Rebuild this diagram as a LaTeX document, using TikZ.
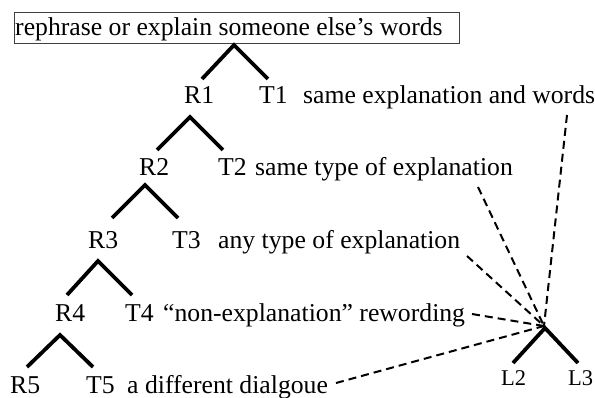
\documentclass[tikz,border=0pt]{standalone}
\usepackage{fontspec}
\setmainfont{Liberation Serif}
\begin{document}
\begin{tikzpicture}[x=1pt,y=-1pt,
  lbl/.style={font=\fontsize{25.7}{30}\selectfont, inner sep=0pt, anchor=base west},
  small/.style={font=\fontsize{22.5}{26}\selectfont, inner sep=0pt, anchor=base west},
  legline/.style={line width=3.8pt, line join=miter},
  dashlink/.style={line width=2pt, dash pattern=on 8pt off 5pt},
  boxline/.style={line width=0.9pt, draw=black!75}]
\useasboundingbox (0,0) rectangle (595,398);
% top box
\node[lbl] (top) at (15,36) {rephrase or explain someone else’s words};
\draw[boxline] (14,12) rectangle (459,43);
% labels
\node[lbl] (R1) at (184,104) {R1};
\node[lbl] (T1) at (259,104) {T1};
\node[lbl] (d1) at (303,104) {same explanation and words};
\node[lbl] (R2) at (139,176) {R2};
\node[lbl] (T2) at (218,176) {T2};
\node[lbl] (d2) at (255,176) {same type of explanation};
\node[lbl] (R3) at (88,249) {R3};
\node[lbl] (T3) at (172,249) {T3};
\node[lbl] (d3) at (218,249) {any type of explanation};
\node[lbl] (R4) at (55,322) {R4};
\node[lbl] (T4) at (125,322) {T4};
\node[lbl] (d4) at (163,322) {“non-explanation” rewording};
\node[lbl] (R5) at (10,393) {R5};
\node[lbl] (T5) at (86,393) {T5};
\node[lbl] (d5) at (127,393) {a different dialgoue};
\node[small] (L2) at (501,385) {L2};
\node[small] (L3) at (568,385) {L3};
% tree apexes and leg ends
\coordinate (a0) at (234,45); \coordinate (a0l) at (202,79); \coordinate (a0r) at (268,79);
\coordinate (a1) at (190,117); \coordinate (a1l) at (157,150); \coordinate (a1r) at (223,150);
\coordinate (a2) at (145,185); \coordinate (a2l) at (112,218); \coordinate (a2r) at (178,218);
\coordinate (a3) at (98,261); \coordinate (a3l) at (67,295); \coordinate (a3r) at (132,295);
\coordinate (a4) at (60,335); \coordinate (a4l) at (27,367); \coordinate (a4r) at (93,367);
\coordinate (aL) at (545,328); \coordinate (aLl) at (513,363); \coordinate (aLr) at (578,363);
\foreach \t in {a0,a1,a2,a3,a4,aL}
  \draw[legline] (\t l) -- (\t) -- (\t r);
% dashed links
\coordinate (e1) at (567,115);
\coordinate (e2) at (478,187);
\coordinate (e3) at (467,256);
\coordinate (e4) at (472,314);
\coordinate (e5) at (336,383);
\coordinate (hub) at (544,326);
\foreach \e in {e1,e2,e3,e4,e5}
  \draw[dashlink] (\e) -- (hub);
\end{tikzpicture}
\end{document}
